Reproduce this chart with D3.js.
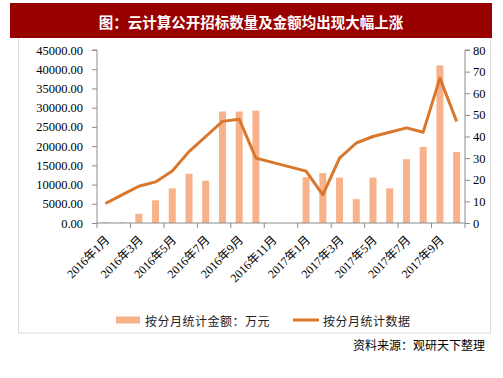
<!DOCTYPE html>
<html><head><meta charset="utf-8">
<script src="https://cdn.jsdelivr.net/npm/d3@7"></script>
<style>
body{margin:0;background:#fff;}
svg{display:block;}
</style></head>
<body>
<svg id="c" width="503" height="378"></svg>
<script>
const months = ["2016年1月","2016年2月","2016年3月","2016年4月","2016年5月","2016年6月","2016年7月","2016年8月","2016年9月","2016年10月","2016年11月","2016年12月",
"2017年1月","2017年2月","2017年3月","2017年4月","2017年5月","2017年6月","2017年7月","2017年8月","2017年9月","2017年10月"];
const amounts = [200,150,2400,5900,9000,12800,11000,29000,29000,29200,null,null,11900,13000,11800,6200,11800,9000,16600,19800,41000,18500];
const counts = [9,13,17,19,24,33,40,47,48,30,null,null,24,13,30,37,40,42,44,42,67,47];
const leftTicks = [0,5000,10000,15000,20000,25000,30000,35000,40000,45000];
const rightTicks = [0,10,20,30,40,50,60,70,80];
const titleText = "图：云计算公开招标数量及金额均出现大幅上涨";
const legendBar = "按分月统计金额：万元";
const legendLine = "按分月统计数据";
const sourceText = "资料来源：观研天下整理";

const svg = d3.select("#c");
const barColor = "#f8b28b", lineColor = "#d9772d", axisColor = "#8c8c8c";
const serif = "'Liberation Serif','Times New Roman',serif";
const cjk = "'Noto Sans CJK SC',sans-serif";

// frame
svg.append("rect").attr("x",18.5).attr("y",36).attr("width",472).attr("height",297)
  .attr("fill","none").attr("stroke","#dcdcdc").attr("stroke-width",1);
// title banner
svg.append("rect").attr("x",10).attr("y",3).attr("width",482).attr("height",35).attr("fill","#990000");
svg.append("text").attr("x",251).attr("y",21).attr("text-anchor","middle").attr("dominant-baseline","central")
  .attr("fill","#fff").attr("font-family",cjk).attr("font-weight","bold").attr("font-size",14.5).text(titleText);

const x0 = 97, x1 = 465, yTop = 50, yBot = 223;
const x = d3.scaleBand().domain(months).range([x0,x1]).paddingInner(0).paddingOuter(0);
const yL = d3.scaleLinear().domain([0,45000]).range([yBot,yTop]);
const yR = d3.scaleLinear().domain([0,80]).range([yBot,yTop]);

// bars
const bw = 7;
svg.append("g").selectAll("rect").data(months.map((m,i)=>({m,v:amounts[i]})).filter(d=>d.v!=null))
  .join("rect").attr("x",d=>x(d.m)+x.bandwidth()/2-bw/2).attr("width",bw)
  .attr("y",d=>yL(d.v)).attr("height",d=>yBot-yL(d.v)).attr("fill",barColor);

// line
const pts = months.map((m,i)=>({m,v:counts[i]})).filter(d=>d.v!=null);
svg.append("path").datum(pts).attr("fill","none").attr("stroke",lineColor).attr("stroke-width",3)
  .attr("stroke-linejoin","round")
  .attr("d",d3.line().x(d=>x(d.m)+x.bandwidth()/2).y(d=>yR(d.v)));

// left axis
const gl = svg.append("g").attr("transform",`translate(${x0},0)`)
  .call(d3.axisLeft(yL).tickValues(leftTicks).tickFormat(d=>d3.format(".2f")(d)).tickSize(5).tickPadding(9));
// right axis
const gr = svg.append("g").attr("transform",`translate(${x1},0)`)
  .call(d3.axisRight(yR).tickValues(rightTicks).tickSize(5).tickPadding(3));
[gl,gr].forEach(g=>{
  g.select(".domain").attr("stroke",axisColor).attr("d", g===gl ? `M-5,${yTop}H0V${yBot}` : `M5,${yTop}H0V${yBot}`);
  g.selectAll(".tick line").attr("stroke",axisColor);
  g.selectAll("text").attr("font-family",serif).attr("font-size",12.5).attr("fill","#000");
});

// x axis
const tickIdx = d3.range(0,23,2);
const gx = svg.append("g");
gx.append("line").attr("x1",x0).attr("x2",x1).attr("y1",yBot).attr("y2",yBot).attr("stroke",axisColor);
gx.selectAll("line.t").data(tickIdx).join("line").attr("class","t")
  .attr("x1",i=>x0+i*x.step()).attr("x2",i=>x0+i*x.step()).attr("y1",yBot).attr("y2",yBot+5).attr("stroke",axisColor);
gx.selectAll("text").data(months.filter((m,i)=>i%2===0)).join("text")
  .attr("transform",d=>`translate(${x(d)+x.bandwidth()/2+2},${yBot+15}) rotate(-45)`)
  .attr("text-anchor","end").attr("dominant-baseline","central")
  .attr("font-family",serif+","+cjk).attr("font-size",12).attr("fill","#000").text(d=>d);

// legend
svg.append("rect").attr("x",116).attr("y",316.5).attr("width",24).attr("height",7).attr("fill",barColor);
svg.append("text").attr("x",145).attr("y",320.5).attr("dominant-baseline","central")
  .attr("font-family",cjk).attr("font-size",12).attr("letter-spacing",0.5).attr("fill","#222").text(legendBar);
svg.append("line").attr("x1",293).attr("x2",319).attr("y1",320).attr("y2",320).attr("stroke",lineColor).attr("stroke-width",3);
svg.append("text").attr("x",323).attr("y",320.5).attr("dominant-baseline","central")
  .attr("font-family",cjk).attr("font-size",12).attr("letter-spacing",0.5).attr("fill","#222").text(legendLine);
// source
svg.append("text").attr("x",485).attr("y",344).attr("text-anchor","end").attr("dominant-baseline","central")
  .attr("font-family",cjk).attr("font-size",12).attr("fill","#000").text(sourceText);
</script>
</body></html>
